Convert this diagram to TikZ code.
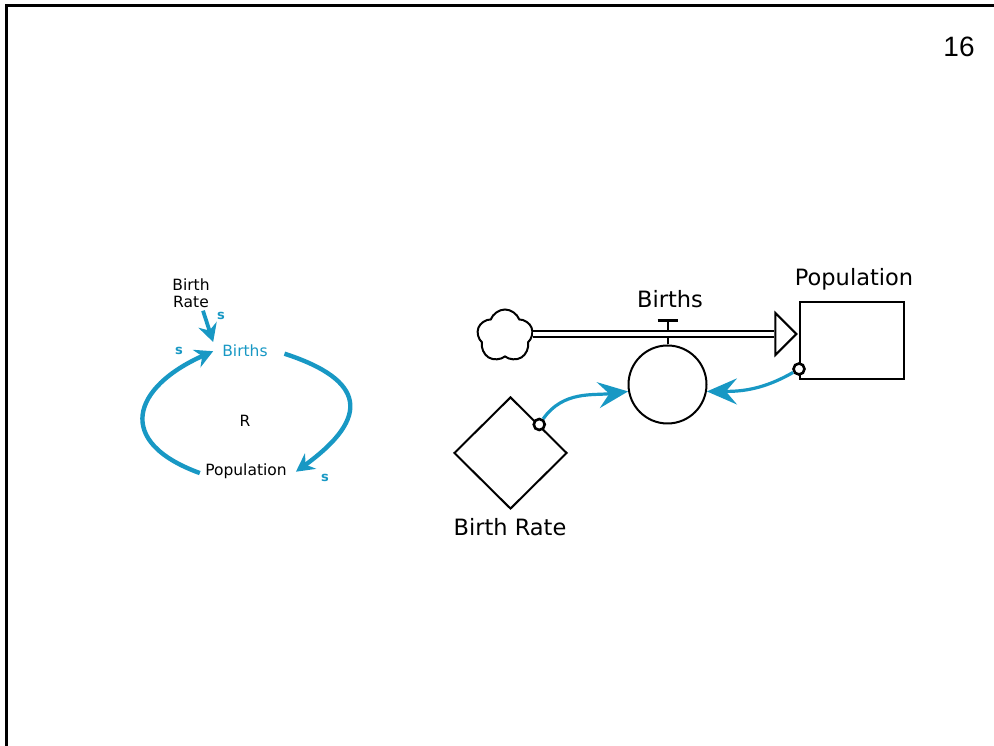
\documentclass[tikz,border=0pt]{standalone}
\usepackage{fontspec}
\setmainfont{DejaVu Sans}
\newfontfamily\numfont{Liberation Sans}
\usetikzlibrary{positioning,shapes.geometric,shapes.symbols,arrows.meta}
\definecolor{loopblue}{RGB}{24,152,196}
\begin{document}
\begin{tikzpicture}[
		x=1pt,y=1pt,
		loop/.style={font=\fontsize{15.5}{17}\selectfont,inner xsep=9pt,inner ysep=3pt},
		sign/.style={font=\bfseries\fontsize{13}{16}\selectfont,text=loopblue},
		link/.style={draw=loopblue,line width=4.4pt,-{Stealth[length=18pt,width=19pt,inset=6pt]}},
		lbl/.style={font=\fontsize{22.5}{26}\selectfont,anchor=base},
		conn/.style={draw=loopblue,line width=3.2pt,-{Stealth[length=30pt,width=26pt,inset=11pt]}},
		port/.style={circle,draw,fill=white,line width=2.6pt,inner sep=0pt,minimum size=11pt},
		thin/.style={line width=2pt}
	]
	\useasboundingbox (0,0) rectangle (994,746);
	\draw[line width=3pt] (994,740.5) -- (6.5,740.5) -- (6.5,0);
	\node[font=\numfont\fontsize{28}{32}\selectfont] (page) at (959,699) {16};

	\node[loop,align=center] (brate) at (191,453) {Birth\\Rate};
	\node[loop,anchor=base,text=loopblue] (births) at (245,389) {Births};
	\node[loop,anchor=base] (pop) at (246,270) {Population};
	\node[loop,anchor=base] (loopR) at (245,319) {R};
	\node[sign] (s1) at (221,430) {s};
	\node[sign] (s2) at (179,395) {s};
	\node[sign] (s3) at (325,268) {s};
	\draw[link,line width=3.8pt] ([xshift=12pt]brate.south) -- (births.north west);
	\draw[link,shorten <=-4pt] (pop.west) to[out=160,in=204,looseness=1.85] (births.west);
	\draw[link,shorten <=8pt] (births.east) to[out=-18,in=36,looseness=1.95] (pop.east);

	\node[cloud,cloud puffs=5,cloud puff arc=140,aspect=1,draw,thin,minimum width=56pt,minimum height=53pt] (source) at (505,410) {};
	\node[draw,thin,minimum width=104pt,minimum height=77pt] (stock) at (852,405.5) {};
	\node[circle,draw,thin,minimum size=78pt] (aux) at (667.5,361.5) {};
	\node[diamond,draw,thin,minimum width=113pt,minimum height=112pt] (rate) at (510.5,293) {};
	\coordinate (inlet) at (stock.west |- 0,412);
	\node[isosceles triangle,isosceles triangle stretches,draw,thin,fill=white,minimum width=42pt,minimum height=21pt,inner sep=0pt,anchor=apex] (head) at (inlet) {};
	\draw[thin] (aux.north) -- ++(0,24) coordinate (valve);
	\draw[line width=1.8pt,double,double distance=4.6pt] (source.east |- inlet) -- (head.west);
	\draw[line width=3.2pt] ([xshift=-10pt]valve) -- ([xshift=10pt]valve);
	\node[lbl] (auxlbl) at (670,438) {Births};
	\node[lbl] (stocklbl) at (854,460) {Population};
	\node[lbl] (ratelbl) at (510,210) {Birth Rate};

	\node[port] (rateport) at (rate.north east) {};
	\node[port] (popport) at ([yshift=11pt]stock.south west) {};
	\draw[conn] (rateport) to[out=55,in=187] (aux.190);
	\draw[conn] (popport) to[out=210,in=0] (aux.-10);
\end{tikzpicture}
\end{document}
